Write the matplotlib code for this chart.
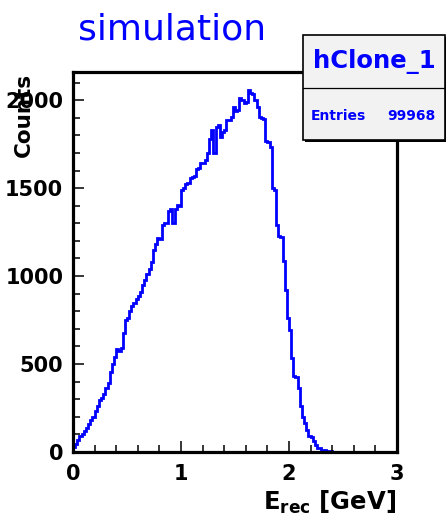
import numpy as np
import matplotlib.pyplot as plt
from matplotlib.patches import Rectangle
from matplotlib.ticker import MultipleLocator

# reconstructed energy histogram, 150 bins from 0 to 3 GeV
e_lo = 0.0
e_hi = 3.0
counts = [30, 45, 70, 90, 100, 120, 135, 160, 180, 200,
          235, 260, 295, 305, 330, 365, 395, 455, 500, 540,
          585, 575, 590, 675, 750, 760, 800, 830, 845, 870,
          885, 910, 950, 980, 1010, 1040, 1080, 1150, 1180, 1215,
          1210, 1290, 1300, 1300, 1370, 1380, 1300, 1380, 1405, 1400,
          1490, 1500, 1525, 1530, 1560, 1565, 1570, 1610, 1615, 1640,
          1640, 1660, 1700, 1780, 1830, 1700, 1850, 1860, 1790, 1820,
          1830, 1885, 1890, 1905, 1960, 1940, 1945, 2010, 2000, 1985,
          1990, 2055, 2040, 2035, 2000, 1960, 1905, 1900, 1895, 1765,
          1760, 1735, 1500, 1490, 1290, 1225, 1220, 1085, 920, 760,
          695, 535, 430, 425, 365, 260, 200, 165, 125, 90,
          85, 60, 40, 25, 20, 12, 10, 6, 4, 3,
          2, 2, 1, 1, 0, 2, 1, 0, 1, 0,
          1, 0, 0, 1, 0, 0, 1, 0, 0, 0,
          0, 1, 0, 0, 0, 0, 0, 0, 1, 0]
edges = np.linspace(e_lo, e_hi, len(counts) + 1)

title = 'simulation'
hname = 'hClone_1'
entries = '99968'

plt.rcParams['font.family'] = 'DejaVu Sans'
plt.rcParams['mathtext.fontset'] = 'dejavusans'

W, H = 446, 525
fig = plt.figure(figsize=(W / 100, H / 100), dpi=100)
ax = fig.add_axes([73 / W, 1 - 452 / H, (397 - 73) / W, (452 - 72) / H])

ax.stairs(counts, edges, color='#0000ff', lw=2.0, baseline=0)
ax.set_xlim(0, 3)
ax.set_ylim(0, 2160)

ax.xaxis.set_major_locator(MultipleLocator(1))
ax.xaxis.set_minor_locator(MultipleLocator(0.2))
ax.yaxis.set_major_locator(MultipleLocator(500))
ax.yaxis.set_minor_locator(MultipleLocator(100))
ax.tick_params(which='both', direction='in', top=False, right=False, width=1.1)
ax.tick_params(which='major', length=8)
ax.tick_params(which='minor', length=5)
ax.tick_params(axis='x', which='major', pad=9, labelsize=15)
ax.tick_params(axis='y', which='major', pad=7, labelsize=15)
for lab in ax.get_xticklabels() + ax.get_yticklabels():
    lab.set_fontweight('bold')
for s in ax.spines.values():
    s.set_linewidth(2.3)

fig.text(78 / W, 1 - 40 / H, title, color='#0000ff', fontsize=26,
         ha='left', va='baseline')
fig.text(24 / W, 1 - 73 / H, 'Counts', rotation=90, fontsize=15.5,
         fontweight='bold', ha='center', va='top')
fig.text(396 / W, 1 - 510 / H, r'E$_{\mathbf{rec}}$ [GeV]', fontsize=17.5,
         fontweight='bold', ha='right', va='baseline')

# stats box
bx0, bx1, by0, by1, bsep = 303, 445, 35, 140, 88
fig.patches.append(Rectangle((bx0 / W + 2 / W, 1 - (by1 + 2) / H), (bx1 - bx0) / W, (by1 - by0) / H,
                             transform=fig.transFigure, facecolor='black', edgecolor='none', zorder=5))
fig.patches.append(Rectangle((bx0 / W, 1 - by1 / H), (bx1 - bx0) / W, (by1 - by0) / H,
                             transform=fig.transFigure, facecolor='#f2f2f2', edgecolor='black',
                             lw=1.2, zorder=6))
fig.add_artist(plt.Line2D([bx0 / W, bx1 / W], [1 - bsep / H, 1 - bsep / H],
                          color='black', lw=0.9, zorder=7))
fig.text((bx0 + bx1) / 2 / W, 1 - 68 / H, hname, color='#0000ff', fontsize=17.5,
         fontweight='bold', ha='center', va='baseline', zorder=8)
fig.text(311 / W, 1 - 120 / H, 'Entries', color='#0000ff', fontsize=10,
         fontweight='bold', ha='left', va='baseline', zorder=8)
fig.text(435 / W, 1 - 120 / H, entries, color='#0000ff', fontsize=10,
         fontweight='bold', ha='right', va='baseline', zorder=8)

fig.savefig('out.png', dpi=100)
